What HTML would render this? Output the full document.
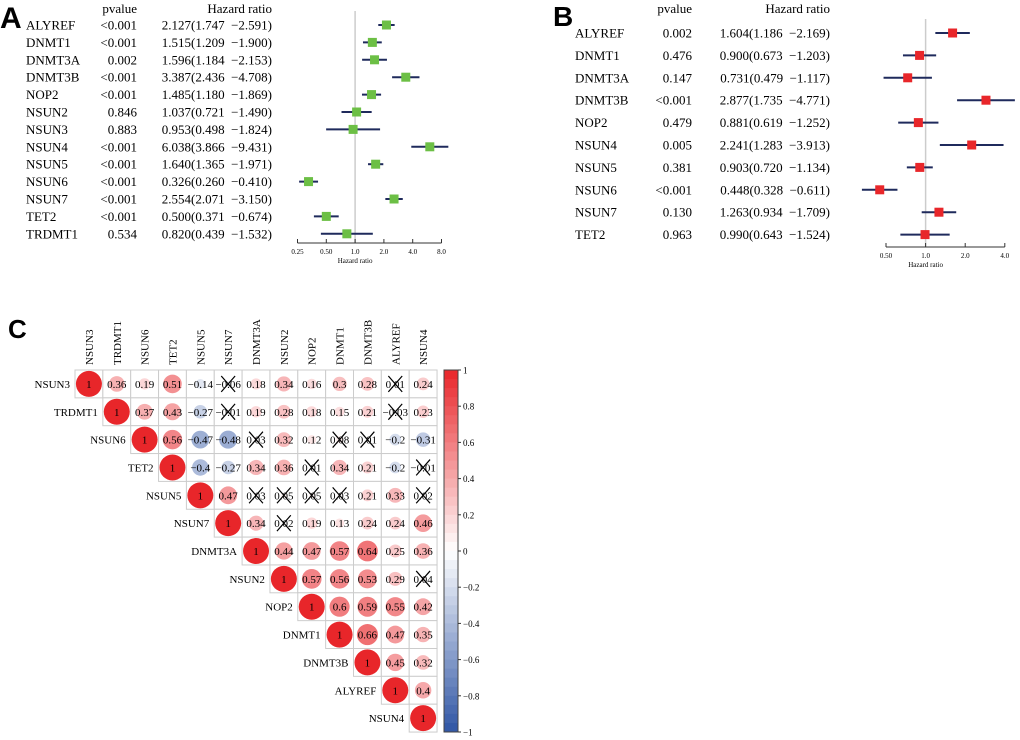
<!DOCTYPE html>
<html><head><meta charset="utf-8"><style>
body{margin:0;background:#fff;}
svg{display:block;font-family:"Liberation Serif",serif;}
text{white-space:pre;}
</style></head><body>
<svg id="s" width="1020" height="740" viewBox="0 0 1020 740">
<text x="0" y="28" font-family="Liberation Sans,sans-serif" font-weight="bold" font-size="30">A</text>
<text x="553" y="26" font-family="Liberation Sans,sans-serif" font-weight="bold" font-size="28">B</text>
<text x="8" y="338" font-family="Liberation Sans,sans-serif" font-weight="bold" font-size="26">C</text>
<g id="ga"></g>
<g id="gb"></g>
<g id="gc"></g>
</svg>
<script>
const aGenes=["ALYREF","DNMT1","DNMT3A","DNMT3B","NOP2","NSUN2","NSUN3","NSUN4","NSUN5","NSUN6","NSUN7","TET2","TRDMT1"];
const aP=["<0.001","<0.001","0.002","<0.001","<0.001","0.846","0.883","<0.001","<0.001","<0.001","<0.001","<0.001","0.534"];
const aHR=[2.127,1.515,1.596,3.387,1.485,1.037,0.953,6.038,1.640,0.326,2.554,0.500,0.820];
const aLo=[1.747,1.209,1.184,2.436,1.180,0.721,0.498,3.866,1.365,0.260,2.071,0.371,0.439];
const aHi=[2.591,1.900,2.153,4.708,1.869,1.490,1.824,9.431,1.971,0.410,3.150,0.674,1.532];
const aTicks=[0.25,0.5,1,2,4,8];
const aTickLabels=["0.25","0.50","1.0","2.0","4.0","8.0"];
const bGenes=["ALYREF","DNMT1","DNMT3A","DNMT3B","NOP2","NSUN4","NSUN5","NSUN6","NSUN7","TET2"];
const bP=["0.002","0.476","0.147","<0.001","0.479","0.005","0.381","<0.001","0.130","0.963"];
const bHR=[1.604,0.900,0.731,2.877,0.881,2.241,0.903,0.448,1.263,0.990];
const bLo=[1.186,0.673,0.479,1.735,0.619,1.283,0.720,0.328,0.934,0.643];
const bHi=[2.169,1.203,1.117,4.771,1.252,3.913,1.134,0.611,1.709,1.524];
const bTicks=[0.5,1,2,4];
const bTickLabels=["0.50","1.0","2.0","4.0"];
const cGenes=["NSUN3","TRDMT1","NSUN6","TET2","NSUN5","NSUN7","DNMT3A","NSUN2","NOP2","DNMT1","DNMT3B","ALYREF","NSUN4"];
const cRows=[
[1,.36,.19,.51,-.14,-.06,.18,.34,.16,.3,.28,.01,.24],
[1,.37,.43,-.27,-.01,.19,.28,.18,.15,.21,-.03,.23],
[1,.56,-.47,-.48,.03,.32,.12,.08,.01,-.2,-.31],
[1,-.4,-.27,.34,.36,.01,.34,.21,-.2,-.01],
[1,.47,.03,.05,.05,.03,.21,.33,.02],
[1,.34,.02,.19,.13,.24,.24,.46],
[1,.44,.47,.57,.64,.25,.36],
[1,.57,.56,.53,.29,.04],
[1,.6,.59,.55,.42],
[1,.66,.47,.35],
[1,.45,.32],
[1,.4],
[1]];
const cbTicks=[1,0.8,0.6,0.4,0.2,0,-0.2,-0.4,-0.6,-0.8,-1];
const NS="http://www.w3.org/2000/svg";
function mk(p,t,a,txt){const e=document.createElementNS(NS,t);for(const k in a)e.setAttribute(k,a[k]);if(txt!==undefined)e.textContent=txt;p.appendChild(e);return e;}
function fmt(v){return v.toFixed(3);}
function forest(g,o){
  const sx=v=>o.x1+(Math.log2(v)-Math.log2(o.t0))*o.per;
  const sy=i=>o.y0+i*o.dy;
  let t;
  t=mk(g,"text",{x:o.px,y:o.hy,"font-size":13,"text-anchor":"end"},"pvalue");
  t=mk(g,"text",{x:o.hx,y:o.hy,"font-size":13,"text-anchor":"end"},"Hazard ratio");
  const ref=mk(g,"line",{x1:sx(1),x2:sx(1),y1:o.y0-14,y2:o.ay,stroke:"#ccc","stroke-width":1.5});
  
  o.genes.forEach((n,i)=>{
    const y=sy(i);
    t=mk(g,"text",{x:o.nx,y:y+4.5,"font-size":13},n);
    t=mk(g,"text",{x:o.px,y:y+4.5,"font-size":13,"text-anchor":"end"},o.p[i]);
    t=mk(g,"text",{x:o.hx,y:y+4.5,"font-size":13,"text-anchor":"end"},fmt(o.hr[i])+"("+fmt(o.lo[i])+"  \u2212"+fmt(o.hi[i])+")");
    const l=mk(g,"line",{x1:sx(o.lo[i]),x2:sx(o.hi[i]),y1:y,y2:y,stroke:"#1f2a5c","stroke-width":2});
    
    const r=mk(g,"rect",{x:sx(o.hr[i])-o.bs/2,y:y-o.bs/2,width:o.bs,height:o.bs,fill:o.col});
    
  });
  const ax=mk(g,"line",{x1:sx(o.ticks[0]),x2:sx(o.ticks[o.ticks.length-1]),y1:o.ay,y2:o.ay,stroke:"#333"});
  
  o.ticks.forEach((v,i)=>{
    mk(g,"line",{x1:sx(v),x2:sx(v),y1:o.ay,y2:o.ay-4,stroke:"#333"});
    t=mk(g,"text",{x:sx(v),y:o.ay+11,"font-size":7,"text-anchor":"middle"},o.tl[i]);
  });
  t=mk(g,"text",{x:sx(1),y:o.ay+20,"font-size":7,"text-anchor":"middle"},"Hazard ratio");
}
forest(document.getElementById("ga"),{genes:aGenes,p:aP,hr:aHR,lo:aLo,hi:aHi,ticks:aTicks,tl:aTickLabels,t0:0.25,x1:297.5,per:28.8,y0:25,dy:17.4,ay:243,nx:26,px:137,hx:272,hy:13,bs:9,col:"#6cbf45"});
forest(document.getElementById("gb"),{genes:bGenes,p:bP,hr:bHR,lo:bLo,hi:bHi,ticks:bTicks,tl:bTickLabels,t0:0.5,x1:886,per:39.6,y0:33,dy:22.4,ay:247,nx:575,px:692,hx:830,hy:13,bs:9,col:"#e8262a"});
const gc=document.getElementById("gc");
const X0=75,Y0=370,C=27.85;
function colr(v){const a=Math.abs(v);const base=v>=0?[232,38,42]:[47,85,164];return "rgb("+base.map(c=>Math.round(255+(c-255)*a)).join(",")+")";}
cGenes.forEach((n,j)=>{
  const cx=X0+j*C+C/2;
  let t=mk(gc,"text",{x:0,y:0,"font-size":11,transform:"translate("+(cx+4)+","+(Y0-5)+") rotate(-90)"},n);
  
});
cRows.forEach((row,i)=>{
  let t=mk(gc,"text",{x:X0+i*C-5,y:Y0+i*C+C/2+4,"font-size":11,"text-anchor":"end"},cGenes[i]);
  
  row.forEach((v,k)=>{
    const j=i+k;const x=X0+j*C,y=Y0+i*C;
    const r=mk(gc,"rect",{x:x,y:y,width:C,height:C,fill:"#fff",stroke:"#ccc","stroke-width":1});
    
    const c=mk(gc,"circle",{cx:x+C/2,cy:y+C/2,r:13*Math.sqrt(Math.abs(v)),fill:colr(v)});
    
    const s=(v===1?"1":(v<0?"\u2212":"")+String(Math.abs(v)).replace(/^0?\./,"0."));
    t=mk(gc,"text",{x:x+C/2,y:y+C/2+4,"font-size":11,"text-anchor":"middle"},s);
    
    if(Math.abs(v)<0.1){
      const p=mk(gc,"path",{d:"M"+(x+7)+" "+(y+6)+"L"+(x+C-7)+" "+(y+C-6)+"M"+(x+C-7)+" "+(y+6)+"L"+(x+7)+" "+(y+C-6),stroke:"#000","stroke-width":1.2});
      
    }
  });
});
const CBX=444,CBW=14,CBT=370,CBB=732;
const cy=v=>CBT+(1-v)/2*(CBB-CBT);
for(let k=0;k<40;k++){const v1=1-k*0.05;const rr=mk(gc,"rect",{x:CBX,y:cy(v1),width:CBW,height:(CBB-CBT)/40+0.5,fill:colr(v1-0.025)});}
const cbo=mk(gc,"rect",{x:CBX,y:CBT,width:CBW,height:CBB-CBT,fill:"none",stroke:"#444"});

cbTicks.forEach(v=>{
  mk(gc,"line",{x1:CBX+CBW,x2:CBX+CBW+3,y1:cy(v),y2:cy(v),stroke:"#333"});
  const t=mk(gc,"text",{x:CBX+CBW+5,y:cy(v)+3.5,"font-size":9},(v<0?"\u2212":"")+String(Math.abs(v)));
  
});
</script>
</body></html>
